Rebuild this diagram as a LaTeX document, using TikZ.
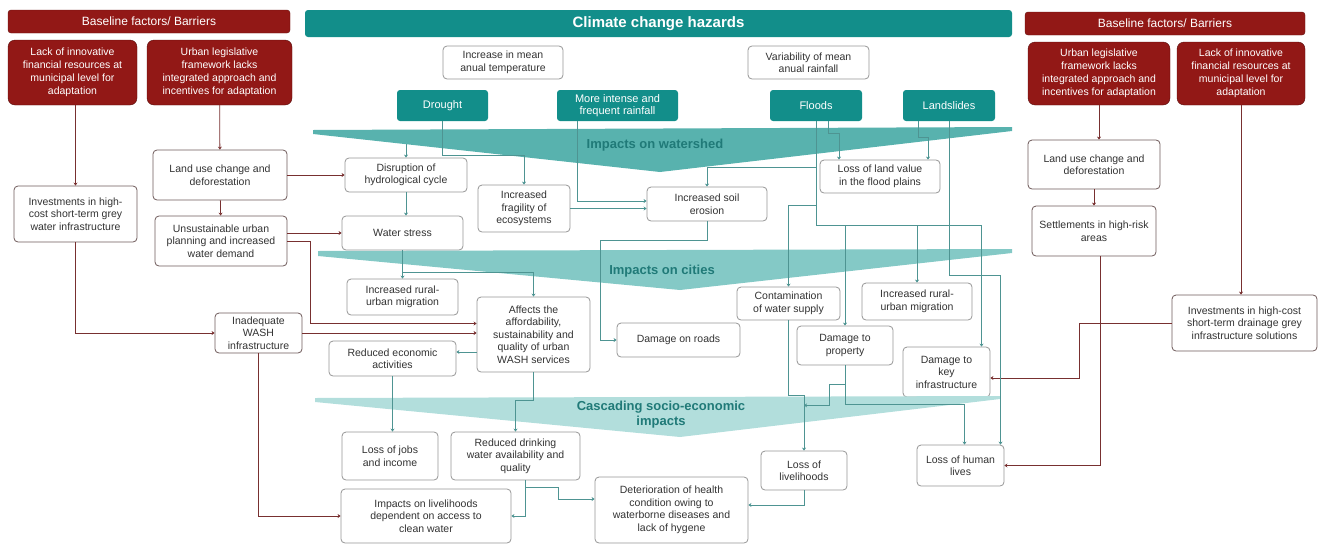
\documentclass[tikz,border=0pt]{standalone}
\usepackage{fontspec}
\setmainfont{Liberation Sans}
\usepackage{tikz}
\usetikzlibrary{arrows.meta,positioning,calc}
\definecolor{BarrierRed}{RGB}{146,24,22}
\definecolor{HazardTeal}{RGB}{18,142,138}
\definecolor{BandDark}{RGB}{88,178,174}
\definecolor{BandMid}{RGB}{132,201,198}
\definecolor{BandLight}{RGB}{178,222,220}
\definecolor{BandText}{RGB}{32,122,120}
\definecolor{LinkRed}{RGB}{120,48,48}
\definecolor{LinkTeal}{RGB}{78,148,146}
\definecolor{BoxLine}{RGB}{150,150,150}
\definecolor{BoxDark}{RGB}{110,90,90}
\tikzset{impact layout/.style={%
    y=-1pt,%
    x=1pt,%
    every node/.style={%
        inner sep=0pt, align=center%
    }%
}}
\tikzset{barrier head/.style={%
    fill=BarrierRed, draw=BarrierRed!70!black, rounded corners=3pt,%
    text=white, font=\fontsize{12}{14}\selectfont%
}}
\tikzset{hazard head/.style={%
    fill=HazardTeal, rounded corners=3pt,%
    text=white, font=\bfseries\fontsize{15}{17}\selectfont%
}}
\tikzset{barrier box/.style={%
    fill=BarrierRed, draw=BarrierRed!60!black, rounded corners=7pt,%
    text=white, font=\fontsize{10.5}{13}\selectfont%
}}
\tikzset{hazard box/.style={%
    fill=HazardTeal, rounded corners=3pt,%
    text=white, font=\fontsize{11}{12.5}\selectfont%
}}
\tikzset{impact box/.style={%
    draw=BoxLine, fill=white, rounded corners=4pt, line width=0.8pt,%
    text=black!80, font=\fontsize{10.5}{12.5}\selectfont%
}}
\tikzset{driver box/.style={impact box, draw=BoxDark}}
\tikzset{band label/.style={text=BandText, font=\bfseries\fontsize{13}{15}\selectfont}}
\tikzset{barrier link/.style={%
    draw=LinkRed, line width=0.8pt, -{Stealth[width=4pt,length=3pt]}%
}}
\tikzset{hazard link/.style={%
    draw=LinkTeal, line width=0.8pt, -{Stealth[width=4pt,length=3pt]}%
}}
\begin{document}
\begin{tikzpicture}[impact layout]
    \useasboundingbox (0,0) rectangle (1320,544);

    % headers
    \node[barrier head, minimum width=282, minimum height=23] (headL) at (149,21.5) {Baseline factors/ Barriers};
    \node[hazard head, minimum width=707, minimum height=27] (headC) at (658.5,23.5) {Climate change hazards};
    \node[barrier head, minimum width=280, minimum height=23] (headR) at (1165,23.5) {Baseline factors/ Barriers};

    % barriers
    \node[barrier box, minimum width=129, minimum height=65] (lackL) at (72.5,72.5) {Lack of innovative\\financial resources at\\municipal level for\\adaptation};
    \node[barrier box, minimum width=145, minimum height=65] (urbanL) at (219.5,72.5) {Urban legislative\\framework lacks\\integrated approach and\\incentives for adaptation};
    \node[barrier box, minimum width=142, minimum height=63] (urbanR) at (1099,73.5) {Urban legislative\\framework lacks\\integrated approach and\\incentives for adaptation};
    \node[barrier box, minimum width=128, minimum height=63] (lackR) at (1241,73.5) {Lack of innovative\\financial resources at\\municipal level for\\adaptation};

    % hazards
    \node[impact box, minimum width=120, minimum height=33] (temp) at (503,62.5) {Increase in mean\\anual temperature};
    \node[impact box, minimum width=121, minimum height=33] (rainvar) at (808.5,62.5) {Variability of mean\\anual rainfall};
    \node[hazard box, minimum width=91, minimum height=31] (drought) at (442.5,105.5) {Drought};
    \node[hazard box, minimum width=121, minimum height=31] (rainfall) at (617.5,105.5) {More intense and\\frequent rainfall};
    \node[hazard box, minimum width=92, minimum height=31] (floods) at (816,105.5) {Floods};
    \node[hazard box, minimum width=92, minimum height=31] (landslides) at (949,105.5) {Landslides};

    % left drivers
    \node[driver box, minimum width=123, minimum height=56] (invL) at (75.5,214) {Investments in high-\\cost short-term grey\\water infrastructure};
    \node[driver box, minimum width=134, minimum height=50] (landL) at (220,175) {Land use change and\\deforestation};
    \node[driver box, minimum width=132, minimum height=50] (unsusL) at (221,241) {Unsustainable urban\\planning and increased\\water demand};
    \node[driver box, minimum width=87, minimum height=40] (wash) at (258.5,333) {Inadequate\\WASH\\infrastructure};

    % impacts
    \node[impact box, minimum width=122, minimum height=34] (disrupt) at (406,175) {Disruption of\\hydrological cycle};
    \node[impact box, minimum width=92, minimum height=47] (fragility) at (524,208.5) {Increased\\fragility of\\ecosystems};
    \node[impact box, minimum width=121, minimum height=34] (stress) at (402.5,233) {Water stress};
    \node[impact box, minimum width=120, minimum height=34] (erosion) at (707,204) {Increased soil\\erosion};
    \node[impact box, minimum width=120, minimum height=33] (landval) at (880,176.5) {Loss of land value\\in the flood plains};
    \node[impact box, minimum width=111, minimum height=36] (migrL) at (402.5,297) {Increased rural-\\urban migration};
    \node[impact box, minimum width=113, minimum height=75] (affects) at (533.5,334.5) {Affects the\\affordability,\\sustainability and\\quality of urban\\WASH services};
    \node[impact box, minimum width=123, minimum height=34] (roads) at (678.5,340) {Damage on roads};
    \node[impact box, minimum width=103, minimum height=33] (contam) at (788.5,303.5) {Contamination\\of water supply};
    \node[impact box, minimum width=110, minimum height=37] (migrR) at (917,301.5) {Increased rural-\\urban migration};
    \node[impact box, minimum width=96, minimum height=39] (property) at (845,345.5) {Damage to\\property};
    \node[impact box, minimum width=87, minimum height=50] (keyinfra) at (946.5,372) {Damage to\\key\\infrastructure};
    \node[impact box, minimum width=127, minimum height=35] (redecon) at (392.5,358.5) {Reduced economic\\activities};
    \node[impact box, minimum width=96, minimum height=48] (jobs) at (390,456) {Loss of jobs\\and income};
    \node[impact box, minimum width=129, minimum height=48] (drinking) at (515.5,456) {Reduced drinking\\water availability and\\quality};
    \node[impact box, minimum width=170, minimum height=54] (livelihoods) at (426,516) {Impacts on livelihoods\\dependent on access to\\clean water};
    \node[impact box, minimum width=153, minimum height=66] (health) at (671.5,510) {Deterioration of health\\condition owing to\\waterborne diseases and\\lack of hygene};
    \node[impact box, minimum width=86, minimum height=39] (lossliv) at (804,470.5) {Loss of\\livelihoods};
    \node[impact box, minimum width=87, minimum height=41] (human) at (960.5,465.5) {Loss of human\\lives};

    % right drivers
    \node[driver box, minimum width=132, minimum height=49] (landR) at (1094,164.5) {Land use change and\\deforestation};
    \node[driver box, minimum width=124, minimum height=50] (settleR) at (1094,231) {Settlements in high-risk\\areas};
    \node[driver box, minimum width=145, minimum height=56] (invR) at (1244.5,323) {Investments in high-cost\\short-term drainage grey\\infrastructure solutions};

    % drought link under the band
    \draw[hazard link] (drought.south) -- ++(0,16) -| (disrupt.north);

    % bands
    \fill[BandDark] (313,130) -- (1012,127) -- (1012,131) -- (660,172) -- (313,134) -- cycle;
    \fill[BandMid] (318,251) -- (1012,249) -- (1012,253) -- (680,290) -- (318,256) -- cycle;
    \fill[BandLight] (315,398) -- (1000,396) -- (1000,399) -- (680,437) -- (315,402) -- cycle;
    \node[band label] (watershed) at (655,145) {Impacts on watershed};
    \node[band label] (cities) at (662,271) {Impacts on cities};
    \node[band label] (cascade) at (661,415) {Cascading socio-economic\\impacts};

    % barrier links
    \draw[barrier link] (lackL.south -| invL.north) -- (invL.north);
    \draw[barrier link] (urbanL) -- (landL);
    \draw[barrier link] (landL.east) -- (disrupt.west);
    \draw[barrier link] (landL) -- (unsusL);
    \draw[barrier link] (unsusL.east |- stress.west) -- (stress.west);
    \draw[barrier link] (unsusL.east) -- ++(23,0) |- ([yshift=11pt]affects.west);
    \draw[barrier link] (invL.south) |- (wash.west);
    \draw[barrier link] (wash.east) -- (wash.east -| affects.west);
    \draw[barrier link] (wash.south) |- (livelihoods.west);
    \draw[barrier link] (urbanR.south) -- (urbanR.south |- landR.north);
    \draw[barrier link] (landR) -- (settleR);
    \draw[barrier link] ([xshift=6pt]settleR.south) |- (human.east);
    \draw[barrier link] (lackR.south) -- (lackR.south |- invR.north);
    \draw[barrier link] (invR.west) -- ++(-92,0) |- ([yshift=-6pt]keyinfra.east);

    % hazard links
    \draw[hazard link] (drought.south) -- ++(0,34) -| (fragility.north);
    \draw[hazard link] (disrupt.south) -- (disrupt.south |- stress.north);
    \draw[hazard link] (fragility.east) -- (fragility.east -| erosion.west);
    \draw[hazard link] ([xshift=-40pt]rainfall.south) |- ([yshift=3pt]erosion.west);
    \draw[hazard link] (erosion.south) -- ++(0,19) -| ([xshift=-16pt]roads.west) -- (roads.west);
    \draw[hazard link] ([xshift=12pt]floods.south) -- ++(0,12) -| ([xshift=-41pt]landval.north);
    \draw[hazard link] ([xshift=-31pt]landslides.south) -- ++(0,16) -| ([xshift=48pt]landval.north);
    \draw[hazard link] (floods.south) -- ++(0,46) -| (erosion.north);
    \draw[hazard link] (floods.south) -- ++(0,84) -| (contam.north);
    \draw[hazard link] (floods.south) -- ++(0,104) -| ([xshift=35pt]keyinfra.north);
    \draw[hazard link] (floods.south) ++(0,104) -| (property.north);
    \draw[hazard link] (floods.south) ++(0,104) -| (migrR.north);
    \draw[hazard link] (landslides.south) -- ++(0,154) -| ([xshift=40pt]human.north);
    \draw[hazard link] (stress.south) -- (migrL.north);
    \draw[hazard link] (stress.south) ++(0,22) -| (affects.north);
    \draw[hazard link] (contam.south) -- ++(0,75) -| (lossliv.north);
    \draw[hazard link] (property.south) -- ++(0,19) -| ++(-16,21) -- ++(-25,0);
    \draw[hazard link] (property.south) -- ++(0,39) -| ([xshift=4pt]human.north);
    \draw[hazard link] (lossliv.south) |- ([yshift=5pt]health.east);
    \draw[hazard link] (affects.south) -- ++(0,28) -| (drinking.north);
    \draw[hazard link] ([yshift=-17.5pt]affects.west) -- ([yshift=6.5pt]redecon.east);
    \draw[hazard link] (redecon.south) -- (redecon.south |- jobs.north);
    \draw[hazard link] ([xshift=10pt]drinking.south) |- (livelihoods.east);
    \draw[hazard link] ([xshift=10pt]drinking.south) -- ++(0,7) -- ++(33,0) |- ([yshift=11pt]health.west);
\end{tikzpicture}
\end{document}
